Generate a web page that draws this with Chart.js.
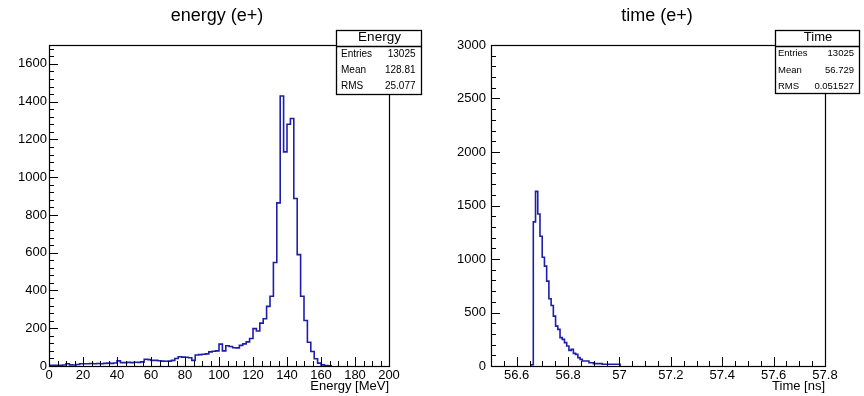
<!DOCTYPE html>
<html>
<head>
<meta charset="utf-8">
<script src="https://cdn.jsdelivr.net/npm/chart.js@4.4.0/dist/chart.umd.min.js"></script>
<style>
html,body{margin:0;padding:0;background:#fff;}
#wrap{position:relative;width:864px;height:396px;overflow:hidden;background:#fff;}
canvas{position:absolute;left:0;top:0;}
</style>
</head>
<body>
<div id="wrap">
<canvas id="cE" width="864" height="396"></canvas>
<canvas id="cT" width="864" height="396"></canvas>
</div>
<script>
// ---------- data ----------
const energyFirstEdge = 0;        // MeV
const energyBinWidth = 2;         // MeV
const energyCounts = [
  4,4,4,4,5,12,6,5,8,12,
  12,12,13,12,13,12,14,15,14,16,
  27,18,18,19,18,20,19,22,36,34,
  30,30,28,26,25,26,30,40,49,47,
  46,44,30,58,60,62,64,75,78,80,
  116,80,107,103,97,96,109,117,128,146,
  198,185,227,250,316,369,548,864,1430,1134,
  1280,1311,887,590,369,241,126,77,38,15,
  6,2,1
];
const timeFirstEdge = 56.656;     // ns
const timeBinWidth = 0.0086667;   // ns
const timeCounts = [
  12,1347,1632,1421,1212,1017,933,793,628,566,
  466,373,342,265,249,218,187,146,155,118,
  109,78,62,47,47,47,31,31,22,22,
  22,22,16,16,16,16,16,16,16,16
];
const energyXTicks = [0,20,40,60,80,100,120,140,160,180,200];
const energyYTicks = [0,200,400,600,800,1000,1200,1400,1600];
const timeXTicks = [56.6,56.8,57,57.2,57.4,57.6,57.8];
const timeYTicks = [0,500,1000,1500,2000,2500,3000];
const statLabels = ['Entries','Mean','RMS'];
const energyStats = ['13025','128.81','25.077'];
const timeStats = ['13025','56.729','0.051527'];

// ---------- helpers ----------
const FONT = "'Liberation Sans', Arial, Helvetica, sans-serif";
const HIST_COLOR = '#1e1eaa';

function histPoints(first, width, counts) {
  const pts = [{x: first, y: 0}];
  counts.forEach((c, i) => pts.push({x: first + i * width, y: c}));
  pts.push({x: first + counts.length * width, y: 0});
  return pts;
}

function drawAxisTicks(ctx, scale, ticks, minorStep, isX, area) {
  const major = ticks[1] - ticks[0];
  const t0 = ticks[0];
  const nStart = Math.ceil((scale.min - t0) / minorStep - 1e-9);
  const nEnd = Math.floor((scale.max - t0) / minorStep + 1e-9);
  for (let n = nStart; n <= nEnd; n++) {
    const v = t0 + n * minorStep;
    const r = (v - t0) / major;
    const isMajor = Math.abs(r - Math.round(r)) < 1e-6;
    const len = isMajor ? 9 : 5;
    const p = Math.round(scale.getPixelForValue(v)) + 0.5;
    ctx.beginPath();
    if (isX) { ctx.moveTo(p, area.bottom); ctx.lineTo(p, area.bottom - len); }
    else { ctx.moveTo(area.left, p); ctx.lineTo(area.left + len, p); }
    ctx.stroke();
  }
}

function makeRootPlugin(spec) {
  return {
    id: 'rootStyle',
    afterDatasetsDraw(chart) {
      const ctx = chart.ctx, a = chart.chartArea;
      ctx.save();
      ctx.strokeStyle = '#000';
      ctx.lineWidth = 1.2;
      ctx.strokeRect(a.left + 0.5, a.top + 0.5, a.right - a.left, a.bottom - a.top);
      ctx.lineWidth = 1;
      drawAxisTicks(ctx, chart.scales.x, spec.xTicks, spec.xMinor, true, a);
      drawAxisTicks(ctx, chart.scales.y, spec.yTicks, spec.yMinor, false, a);
      ctx.restore();
    },
    afterDraw(chart) {
      const ctx = chart.ctx;
      const b = spec.box;
      ctx.save();
      // title
      ctx.fillStyle = '#000';
      ctx.font = '18px ' + FONT;
      ctx.textAlign = 'center';
      ctx.textBaseline = 'middle';
      ctx.fillText(spec.title, spec.titleX, spec.titleY);
      // stats box
      ctx.fillStyle = '#fff';
      ctx.fillRect(b.x1, b.y1, b.x2 - b.x1, b.y2 - b.y1);
      ctx.strokeStyle = '#000';
      ctx.lineWidth = 1.3;
      ctx.strokeRect(b.x1 + 0.5, b.y1 + 0.5, b.x2 - b.x1, b.y2 - b.y1);
      ctx.beginPath();
      ctx.moveTo(b.x1, b.yt + 0.5); ctx.lineTo(b.x2 + 1, b.yt + 0.5);
      ctx.stroke();
      ctx.fillStyle = '#000';
      ctx.font = b.titleSize + 'px ' + FONT;
      ctx.textAlign = 'center';
      ctx.fillText(spec.statsTitle, (b.x1 + b.x2) / 2 + 1, b.titleY);
      ctx.font = b.rowSize + 'px ' + FONT;
      statLabels.forEach((lab, i) => {
        ctx.textAlign = 'left';
        ctx.fillText(lab, b.labelX, b.rows[i]);
        ctx.textAlign = 'right';
        ctx.fillText(spec.stats[i], b.valueX, b.rows[i]);
      });
      ctx.restore();
    }
  };
}

function makeHistChart(canvasId, spec) {
  return new Chart(document.getElementById(canvasId), {
    type: 'line',
    data: {
      datasets: [{
        data: spec.points,
        borderColor: HIST_COLOR,
        borderWidth: 1.6,
        pointRadius: 0,
        fill: false,
        stepped: true,
        tension: 0,
        borderJoinStyle: 'miter',
        borderCapStyle: 'butt'
      }]
    },
    options: {
      responsive: false,
      animation: false,
      devicePixelRatio: 1,
      events: [],
      layout: { padding: { left: 0, top: spec.top, right: 864 - spec.right, bottom: 0 } },
      plugins: { legend: { display: false }, tooltip: { enabled: false }, title: { display: false } },
      scales: {
        x: {
          type: 'linear', min: spec.xMin, max: spec.xMax,
          grid: { display: false, drawTicks: false }, border: { display: false },
          ticks: { color: '#000', font: { family: FONT, size: 13 }, padding: 2, autoSkip: false, maxRotation: 0, minRotation: 0, callback: v => String(v) },
          afterBuildTicks: s => { s.ticks = spec.xTicks.map(v => ({ value: v })); },
          afterFit: s => { s.height = 396 - spec.bottom; },
          title: { display: true, text: spec.xTitle, align: 'end', color: '#000', font: { family: FONT, size: 13 }, padding: { top: 0, bottom: 2 } }
        },
        y: {
          type: 'linear', min: spec.yMin, max: spec.yMax,
          grid: { display: false, drawTicks: false }, border: { display: false },
          ticks: { color: '#000', font: { family: FONT, size: 13 }, padding: spec.yPad, autoSkip: false, callback: v => String(v) },
          afterBuildTicks: s => { s.ticks = spec.yTicks.map(v => ({ value: v })); },
          afterFit: s => { s.width = spec.left; }
        }
      }
    },
    plugins: [makeRootPlugin(spec)]
  });
}

makeHistChart('cE', {
  points: histPoints(energyFirstEdge, energyBinWidth, energyCounts),
  left: 49, right: 389, top: 45, bottom: 366,
  xMin: 0, xMax: 200, yMin: 0, yMax: 1700,
  xTicks: energyXTicks, yTicks: energyYTicks, xMinor: 5, yMinor: 40, yPad: 2,
  xTitle: 'Energy [MeV]',
  title: 'energy (e+)', titleX: 217, titleY: 16,
  statsTitle: 'Energy', stats: energyStats,
  box: { x1: 336, y1: 30, x2: 421, y2: 94, yt: 46, titleY: 37.5, titleSize: 13.5, rows: [54, 70.5, 86.5], labelX: 341, valueX: 415.5, rowSize: 10 }
});

makeHistChart('cT', {
  points: histPoints(timeFirstEdge, timeBinWidth, timeCounts),
  left: 491, right: 825, top: 45, bottom: 366,
  xMin: 56.5, xMax: 57.8, yMin: 0, yMax: 3000,
  xTicks: timeXTicks, yTicks: timeYTicks, xMinor: 0.05, yMinor: 100, yPad: 5,
  xTitle: 'Time [ns]',
  title: 'time (e+)', titleX: 657, titleY: 16,
  statsTitle: 'Time', stats: timeStats,
  box: { x1: 775, y1: 30, x2: 859, y2: 93, yt: 46, titleY: 37.5, titleSize: 13, rows: [53.5, 70, 86], labelX: 778, valueX: 854, rowSize: 9.5 }
});
</script>
</body>
</html>
